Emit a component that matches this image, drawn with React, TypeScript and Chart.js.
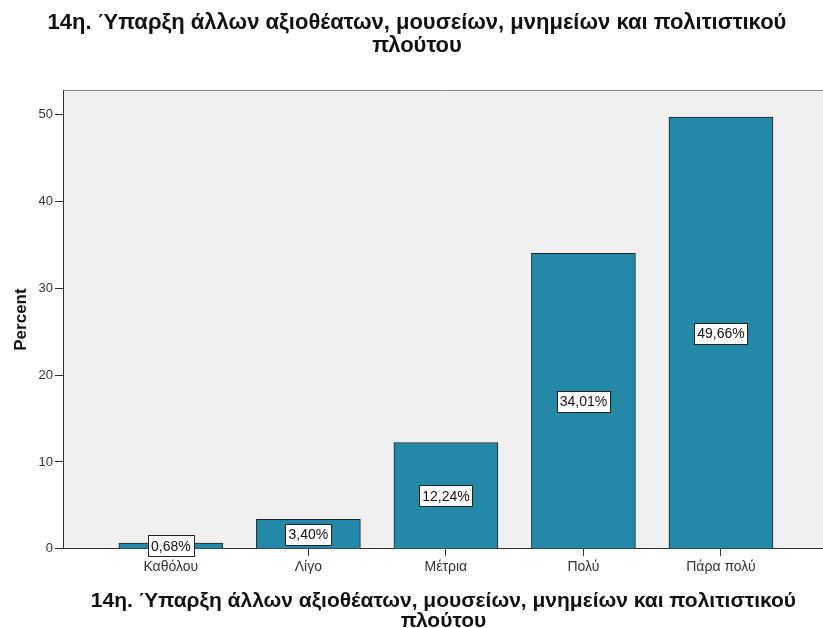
import React, { useEffect, useRef } from "react";
import { Chart, registerables } from "chart.js";

Chart.register(...registerables);

const categories = ["Καθόλου", "Λίγο", "Μέτρια", "Πολύ", "Πάρα πολύ"];
const percents = [0.68, 3.4, 12.24, 34.01, 49.66];
const valueLabels = ["0,68%", "3,40%", "12,24%", "34,01%", "49,66%"];
const yTicks = [0, 10, 20, 30, 40, 50];
const titleLines = ["14η. Ύπαρξη άλλων αξιοθέατων, μουσείων, μνημείων και πολιτιστικού", "πλούτου"];

const FONT = "'Liberation Sans', Arial, sans-serif";

const plotBg = {
  id: "plotBg",
  beforeDraw(chart: any) {
    const { ctx, chartArea: a } = chart;
    ctx.save();
    ctx.fillStyle = "#f0f0f0";
    ctx.fillRect(a.left, a.top, a.right - a.left, a.bottom - a.top);
    ctx.strokeStyle = "#888";
    ctx.lineWidth = 1;
    ctx.beginPath();
    ctx.moveTo(a.left, Math.round(a.top) + 0.5);
    ctx.lineTo(a.right, Math.round(a.top) + 0.5);
    ctx.stroke();
    ctx.restore();
  },
};

const boxLabels = {
  id: "boxLabels",
  afterDatasetsDraw(chart: any) {
    const { ctx } = chart;
    const meta = chart.getDatasetMeta(0);
    const ys = chart.scales.y;
    ctx.save();
    ctx.font = `14px ${FONT}`;
    ctx.textAlign = "center";
    ctx.textBaseline = "middle";
    meta.data.forEach((bar: any, i: number) => {
      const text = valueLabels[i];
      const cx = bar.x;
      const cy = ys.getPixelForValue(percents[i] / 2);
      const w = Math.round(ctx.measureText(text).width + 6);
      const h = 21;
      const x0 = Math.round(cx - w / 2) + 0.5;
      const y0 = Math.round(cy - h / 2) + 0.5;
      ctx.fillStyle = "#ffffff";
      ctx.fillRect(x0, y0, w, h);
      ctx.strokeStyle = "#222";
      ctx.lineWidth = 1;
      ctx.strokeRect(x0, y0, w, h);
      ctx.fillStyle = "#111";
      ctx.fillText(text, cx, cy + 1);
    });
    ctx.restore();
  },
};

export default function App() {
  const ref = useRef<HTMLCanvasElement>(null);
  useEffect(() => {
    if (!ref.current) return;
    const chart = new Chart(ref.current, {
      type: "bar",
      data: {
        datasets: [
          {
            data: percents.map((v, i) => ({ x: i, y: v })),
            backgroundColor: "#2488a8",
            borderColor: "#222",
            borderWidth: 1,
            barThickness: 104,
          },
        ],
      },
      options: {
        animation: false,
        responsive: false,
        maintainAspectRatio: false,
        layout: { padding: { left: 11, right: 0, top: 0, bottom: -3 } },
        plugins: {
          legend: { display: false },
          tooltip: { enabled: false },
          title: {
            display: true,
            text: titleLines,
            color: "#111",
            font: { family: FONT, size: 22, weight: "bold", lineHeight: 1.05 },
            padding: { top: 11, bottom: 33 },
          },
        },
        scales: {
          x: {
            type: "linear",
            min: -0.778,
            max: 4.742,
            offset: false,
            afterBuildTicks(scale: any) {
              scale.ticks = categories.map((_, i) => ({ value: i }));
            },
            ticks: {
              color: "#333",
              font: { family: FONT, size: 14 },
              callback: (v: any) => categories[v as number] ?? "",
              padding: 3,
              maxRotation: 0,
              autoSkip: false,
            },
            grid: { display: true, offset: false, drawOnChartArea: false, drawTicks: true, tickLength: 7, color: "#333" },
            border: { display: true, color: "#333" },
            title: {
              display: true,
              text: titleLines,
              color: "#111",
              font: { family: FONT, size: 21, weight: "bold", lineHeight: 0.96 },
              padding: { top: 12, bottom: 0 },
            },
          },
          y: {
            type: "linear",
            min: 0,
            max: 52.76,
            afterBuildTicks(scale: any) {
              scale.ticks = yTicks.map((v) => ({ value: v }));
            },
            ticks: { color: "#333", font: { family: FONT, size: 13 }, padding: 2 },
            grid: { display: true, drawOnChartArea: false, drawTicks: true, tickLength: 9, color: "#333" },
            border: { display: true, color: "#333" },
            title: {
              display: true,
              text: "Percent",
              color: "#111",
              font: { family: FONT, size: 17, weight: "bold" },
              padding: { top: 0, bottom: 5 },
            },
          },
        },
      },
      plugins: [plotBg, boxLabels],
    });
    return () => chart.destroy();
  }, []);
  return (
    <div style={{ position: "absolute", left: 0, top: 0, width: 823, height: 628, background: "#fff" }}>
      <canvas ref={ref} width={823} height={628} style={{ width: 823, height: 628 }} />
    </div>
  );
}
